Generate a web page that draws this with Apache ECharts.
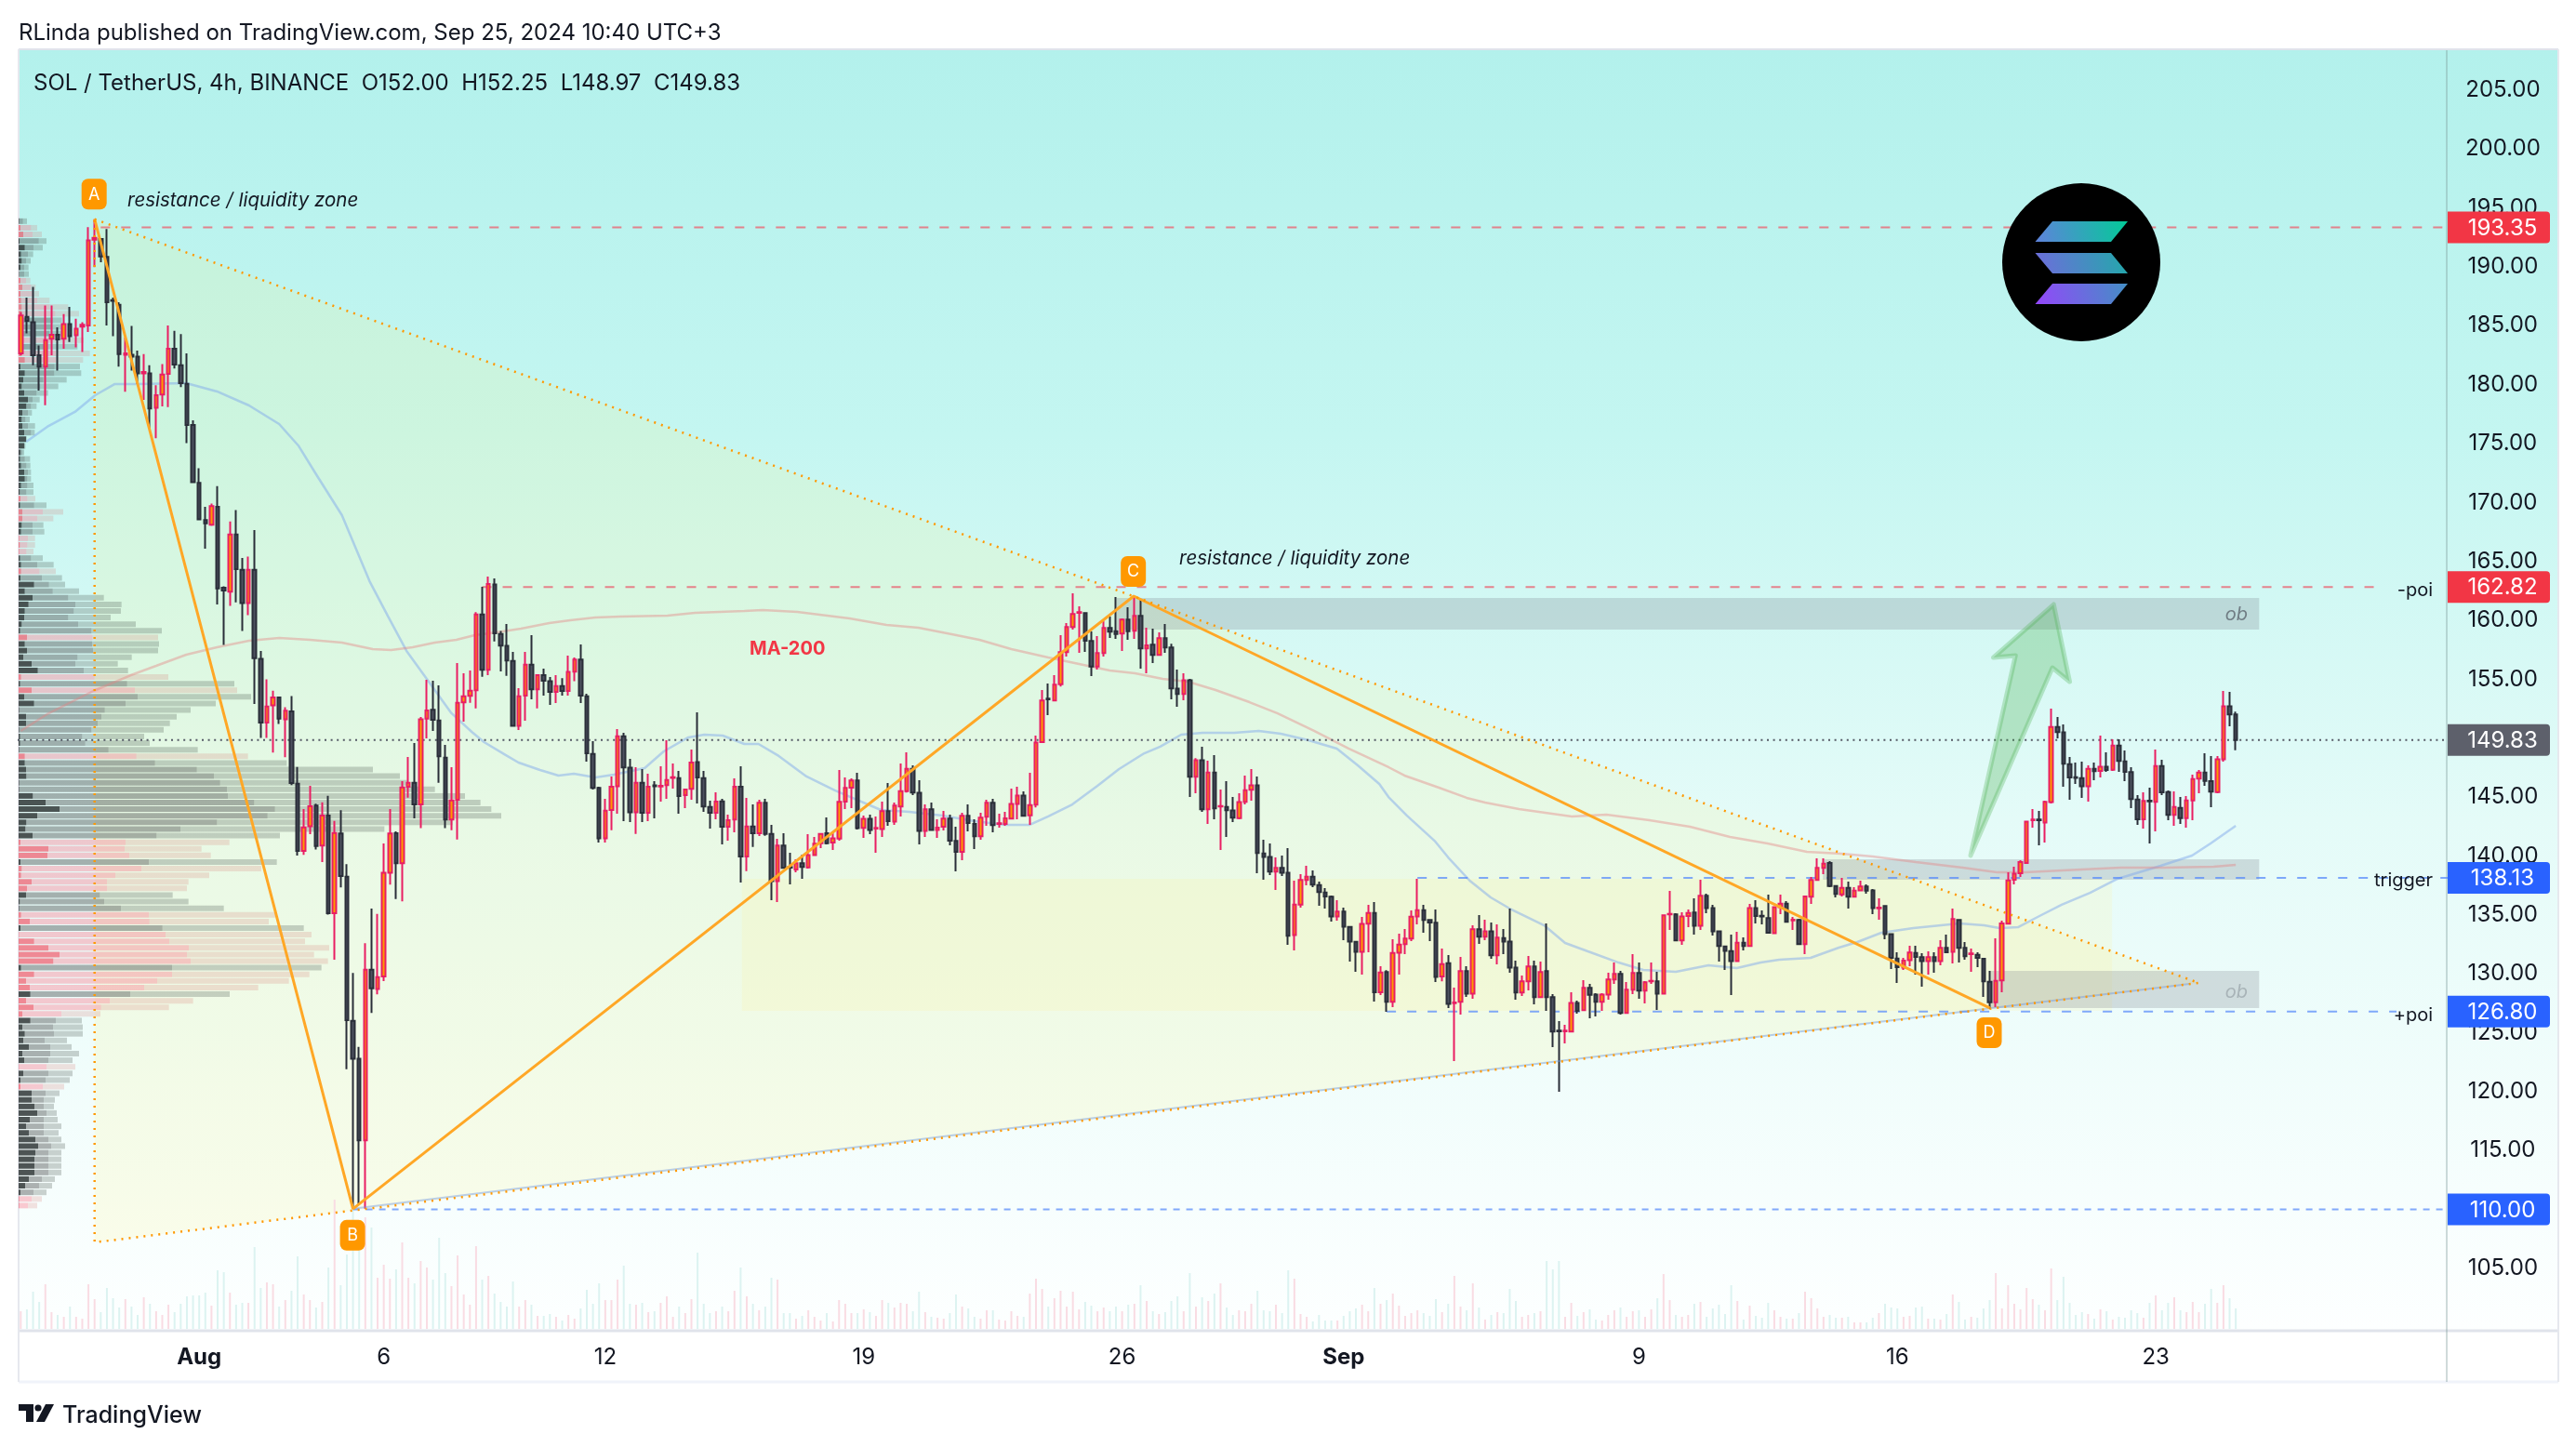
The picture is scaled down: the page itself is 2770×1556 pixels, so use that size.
<!DOCTYPE html>
<html><head><meta charset="utf-8"><style>html,body{margin:0;padding:0;background:#fff}#c{width:2770px;height:1556px}</style>
<script src="https://cdn.jsdelivr.net/npm/echarts@6/dist/echarts.min.js"></script></head><body><div id="c"></div>
<script>
const opens=[182.65,185.75,185.30,182.49,181.53,183.89,184.23,183.89,185.13,184.18,
184.91,185.02,192.29,192.35,190.83,187.16,186.77,182.54,182.54,182.37,
180.96,180.96,178.03,179.16,180.91,183.05,181.64,180.06,176.57,171.66,
168.51,168.11,169.63,162.76,162.42,167.27,164.28,161.46,164.28,156.72,
151.31,152.78,153.45,151.59,152.27,146.13,140.43,142.52,144.27,140.88,
143.42,135.13,141.90,138.23,126.00,122.79,115.86,130.34,128.71,129.78,
138.57,141.92,139.37,145.87,146.21,144.37,151.66,152.40,151.50,148.34,
143.08,144.77,153.03,153.58,154.05,160.50,155.79,163.03,158.84,157.82,
156.55,151.05,153.61,156.24,154.13,155.34,154.82,153.92,154.42,154.00,
155.63,156.66,153.55,148.66,145.77,141.50,143.90,145.92,150.16,147.48,
143.71,146.21,143.66,145.98,145.90,146.00,146.63,146.61,145.16,145.69,
147.97,146.61,144.16,143.66,144.63,142.48,143.08,145.87,139.95,142.50,
141.92,144.50,141.87,137.87,140.87,139.06,138.85,139.37,139.03,140.08,
141.08,141.92,141.13,141.48,144.61,145.79,146.40,142.37,143.14,142.32,
142.29,143.79,142.92,144.19,145.50,147.40,145.35,142.13,143.95,142.21,
142.48,143.16,141.27,140.35,143.40,142.71,141.66,143.32,144.50,142.71,
142.71,143.16,144.42,145.13,143.45,144.35,149.66,153.34,153.19,154.58,
157.29,159.42,160.63,160.61,158.24,156.08,157.21,159.34,159.08,158.87,
160.05,159.11,160.37,157.61,157.92,157.05,158.47,157.69,154.19,153.74,
154.90,146.71,148.13,143.95,147.08,144.19,144.16,143.85,143.21,144.58,
145.61,145.98,140.21,139.92,138.66,138.98,138.58,133.29,135.87,137.95,
138.24,137.53,136.90,136.53,134.87,135.27,133.98,132.72,131.87,134.24,
135.16,128.43,130.14,127.61,131.79,132.51,132.98,134.87,135.40,134.56,
134.32,129.77,130.90,127.51,127.61,130.22,128.32,133.77,133.14,133.59,
131.56,133.03,132.74,130.53,128.40,129.35,130.61,128.01,130.22,128.01,
125.17,125.11,125.09,127.53,126.90,128.80,128.24,127.61,128.24,129.51,
129.98,126.67,128.64,130.06,128.56,129.35,129.35,128.32,135.03,135.03,
132.82,134.90,135.19,134.08,136.61,135.58,133.59,132.32,131.93,131.08,
132.64,132.35,135.58,134.93,134.72,133.45,135.66,135.95,134.53,134.56,
132.51,136.53,137.95,138.98,139.40,137.45,136.74,137.29,136.53,137.08,
137.40,137.08,135.56,135.74,133.37,131.29,130.53,131.16,131.77,131.40,
131.08,131.40,131.08,132.19,131.87,134.56,132.19,131.66,131.61,131.27,
129.32,127.59,129.43,134.24,137.98,138.53,139.40,143.03,143.08,142.84,
144.56,150.95,150.48,147.79,146.69,146.61,145.92,147.40,147.21,147.56,
147.32,149.37,148.03,147.11,144.79,143.11,144.69,144.58,147.63,145.42,
143.48,144.08,143.21,144.71,146.56,147.08,146.35,145.42,148.19,152.69,152.00];
const closes=[185.87,185.42,182.49,181.53,183.78,184.23,183.84,185.13,184.12,184.74,
185.08,192.24,192.46,190.88,186.99,187.11,182.60,182.65,182.37,180.96,
181.08,177.98,179.10,180.85,183.05,181.70,180.12,176.57,171.72,168.56,
168.22,169.69,162.70,162.53,167.27,164.33,161.46,164.28,156.78,151.31,
152.67,153.45,151.65,152.33,146.18,140.43,142.41,144.21,140.83,143.42,
135.13,141.95,138.29,126.06,122.79,115.86,130.34,128.76,129.72,138.57,
141.90,139.37,145.82,146.21,144.37,151.60,152.34,151.55,148.45,143.08,
144.71,153.00,153.55,154.03,160.50,155.79,163.08,158.89,157.84,156.58,
151.05,153.55,156.24,154.13,155.34,154.87,153.92,154.42,154.00,155.61,
156.66,153.61,148.71,145.77,141.50,143.84,145.87,150.16,147.50,143.71,
146.21,143.66,145.87,145.92,145.95,146.45,146.69,145.08,145.63,147.92,
146.66,144.19,143.66,144.61,142.48,143.03,145.87,139.95,142.50,141.92,
144.50,141.87,137.87,140.87,138.98,139.00,139.37,139.06,140.08,141.03,
141.87,141.08,141.50,144.58,145.77,146.40,142.35,143.14,142.21,142.37,
143.79,142.95,144.27,145.50,147.40,145.37,142.13,143.95,142.21,142.40,
143.16,141.29,140.35,143.40,142.79,141.66,143.24,144.50,142.61,142.77,
143.19,144.42,145.13,143.40,144.32,149.63,153.19,153.29,154.53,157.29,
159.42,160.53,160.68,158.26,156.08,157.21,159.34,159.03,158.84,160.05,
159.08,160.37,157.61,157.87,157.05,158.47,157.69,154.21,153.74,154.90,
146.71,148.13,143.95,147.08,144.03,144.24,143.87,143.24,144.56,145.58,
145.98,140.24,139.92,138.66,138.98,138.58,133.22,135.87,137.95,138.24,
137.56,136.93,136.56,134.87,135.27,134.00,132.74,131.87,134.22,135.16,
128.43,130.11,127.61,131.77,132.48,132.98,134.85,135.40,134.56,134.35,
129.74,130.82,127.45,127.56,130.22,128.32,133.77,133.14,133.59,131.56,
133.06,132.74,130.53,128.40,129.35,130.61,128.01,130.14,128.01,125.09,
125.11,125.17,127.53,126.85,128.80,128.22,127.61,128.24,129.51,129.98,
126.67,128.64,130.06,128.56,129.27,129.40,128.32,134.95,135.08,132.82,
134.87,135.16,134.08,136.61,135.58,133.59,132.35,131.95,131.08,132.64,
132.35,135.58,134.90,134.87,133.48,135.66,135.95,134.40,134.59,132.51,
136.56,137.95,138.98,139.35,137.45,136.77,137.29,136.53,137.06,137.40,
137.06,135.58,135.61,133.37,131.35,130.56,131.11,131.80,131.43,131.08,
131.40,131.08,132.19,131.82,134.64,132.19,131.48,131.72,131.35,129.35,
127.59,129.40,134.27,137.92,138.50,139.48,142.92,143.08,143.03,144.58,
150.95,150.50,147.82,146.66,146.63,145.92,147.40,147.19,147.56,147.29,
149.37,148.06,147.13,144.82,143.11,144.66,144.63,147.63,145.40,143.48,
144.16,143.21,144.71,146.53,147.08,146.37,145.45,148.19,152.69,152.00,149.83];
const highs=[186.15,187.39,188.29,183.33,186.71,186.71,184.87,185.98,186.60,185.59,
185.30,193.37,194.04,192.35,193.20,187.39,186.99,184.01,184.97,182.88,
182.60,181.64,179.95,181.75,185.02,184.57,184.29,182.65,176.96,172.90,
169.63,169.91,171.38,162.87,168.39,169.35,165.29,165.41,167.66,157.40,
154.98,154.02,153.51,152.61,153.57,147.54,143.98,145.96,144.44,144.55,
145.11,142.97,143.87,139.31,130.06,123.80,132.60,135.53,135.08,141.05,
143.98,142.08,146.34,148.40,149.58,151.79,154.95,154.87,154.47,149.42,
147.53,156.37,155.50,155.74,160.68,162.84,163.71,163.55,159.10,159.68,
157.32,154.24,157.32,158.74,155.40,155.89,155.18,155.34,155.08,157.00,
156.84,157.95,153.76,149.74,145.87,144.84,146.74,150.76,150.45,148.24,
147.53,147.37,146.98,146.34,147.61,149.82,147.84,147.21,145.71,149.03,
152.19,147.21,144.69,145.40,144.84,143.50,146.58,147.61,144.92,144.37,
144.77,144.84,142.63,141.45,141.92,140.27,139.71,140.11,141.84,141.61,
141.92,143.27,142.00,147.29,146.66,146.58,147.05,143.42,143.50,143.35,
144.61,146.19,144.53,147.84,148.79,147.69,146.42,144.37,144.53,143.11,
143.82,143.50,142.48,143.66,144.37,143.11,143.66,144.77,144.84,143.58,
143.74,145.71,145.87,145.48,147.05,150.21,154.08,154.63,155.34,158.74,
159.76,162.29,161.18,160.68,159.05,158.66,159.92,160.32,161.97,160.16,
161.10,162.00,161.74,159.37,159.29,158.97,159.68,158.00,155.82,155.50,
155.03,148.29,149.27,148.08,148.55,145.63,146.34,145.00,145.32,146.82,
147.37,146.74,141.37,141.06,139.87,140.03,140.66,137.90,138.45,139.16,
138.77,137.82,137.27,136.64,136.24,135.61,133.98,132.74,134.82,135.85,
136.08,130.64,130.30,132.93,133.40,133.79,135.37,138.06,135.85,134.56,
135.45,132.14,131.58,128.82,131.43,130.64,134.11,134.98,134.58,134.35,
134.19,133.80,135.53,131.11,129.85,131.51,131.11,131.03,134.27,128.27,
125.98,125.67,128.43,127.72,129.45,129.14,128.35,128.35,130.09,130.96,
130.24,129.30,131.67,130.96,129.37,130.96,130.16,134.95,137.03,135.14,
135.22,135.45,136.40,137.98,136.80,135.85,133.64,132.37,133.32,133.56,
133.09,135.93,136.24,135.37,136.72,135.69,136.72,136.16,134.82,134.66,
136.64,138.22,139.79,139.79,139.56,137.50,138.13,137.82,137.35,137.90,
137.58,137.19,136.40,135.77,133.40,131.82,131.35,132.37,132.37,131.74,
131.90,131.82,132.85,133.32,135.53,134.61,132.69,132.14,131.82,131.35,
130.24,133.00,134.51,138.61,139.08,139.64,142.95,143.98,143.82,144.69,
152.50,151.79,151.16,148.40,147.92,148.00,147.69,147.92,150.21,148.79,
149.90,149.90,148.95,147.53,145.16,145.40,145.80,149.03,148.16,145.56,
145.48,145.00,145.08,146.90,147.29,148.71,148.48,148.48,154.00,153.92,152.25];
const lows=[182.49,184.35,181.64,179.50,178.26,182.49,181.19,183.05,183.61,183.16,
182.77,184.46,189.98,190.38,185.02,184.12,181.53,179.39,181.19,180.06,
178.71,176.28,175.44,178.15,178.09,181.36,179.78,175.04,171.66,168.51,
166.08,168.00,161.35,157.91,161.23,161.52,159.09,160.44,152.89,150.02,
150.02,148.78,151.20,148.38,146.01,140.04,140.09,141.84,140.55,139.47,
135.02,131.19,137.33,121.89,110.05,110.50,110.05,126.68,128.26,129.38,
137.56,136.35,136.14,144.95,143.19,142.35,149.97,150.61,146.21,142.35,
142.19,141.40,151.40,153.00,152.53,155.21,155.34,158.21,155.66,155.29,
151.05,150.69,151.48,153.29,152.53,153.61,152.82,152.98,153.61,153.61,
154.82,152.98,148.00,145.63,141.13,141.13,142.19,143.58,142.95,142.87,
141.87,142.87,142.95,143.19,144.61,144.84,145.71,143.58,144.06,144.77,
144.45,143.74,142.32,143.11,140.98,141.29,142.00,137.74,138.71,140.77,
141.69,141.71,136.24,136.08,138.92,137.58,138.61,138.06,138.92,140.03,
140.66,140.98,140.50,141.29,143.98,144.06,142.24,141.53,141.84,140.27,
141.61,142.56,142.63,143.34,145.37,145.16,140.98,141.61,142.16,141.53,
142.16,140.90,138.69,139.64,142.08,140.58,141.37,142.56,142.00,142.40,
142.56,143.11,143.11,143.34,142.63,144.11,149.58,151.95,153.13,154.37,
156.92,159.21,157.24,157.32,155.26,155.82,156.92,158.50,158.42,157.40,
158.34,158.42,155.90,155.50,156.37,157.00,157.24,153.29,152.66,153.21,
145.00,145.32,143.74,142.71,143.11,140.50,141.61,142.87,143.11,144.37,
144.69,138.53,137.98,138.37,137.11,138.29,132.45,131.98,135.61,137.50,
137.35,135.77,135.53,134.43,134.51,132.85,131.03,130.16,129.93,131.82,
127.64,128.19,126.77,127.17,129.93,131.66,132.77,134.19,133.48,132.77,
129.30,129.35,127.08,122.59,126.53,128.03,127.88,132.53,132.85,131.27,
130.80,131.67,130.09,127.80,128.11,128.59,127.40,127.96,126.85,123.77,
119.98,124.09,125.03,126.61,126.85,126.22,126.38,126.85,127.80,129.14,
126.53,126.61,128.27,127.88,127.48,129.14,126.93,128.27,133.72,132.77,
132.45,133.95,133.32,133.72,135.14,133.24,131.03,130.32,128.19,131.03,
131.98,132.30,134.27,134.19,133.40,133.40,135.06,134.35,133.72,132.45,
131.67,135.93,137.90,138.45,137.35,136.48,136.56,135.53,136.48,137.03,
136.80,135.06,134.58,132.93,130.40,129.22,130.32,130.64,129.93,128.90,
129.93,130.08,130.72,131.74,130.87,130.95,131.19,130.16,130.56,128.03,
127.01,127.16,128.43,134.24,137.58,138.21,139.35,142.40,140.90,141.13,
144.45,149.98,145.87,144.77,146.11,144.92,144.61,146.42,146.66,147.13,
147.21,147.13,146.34,144.06,142.64,142.32,141.06,142.08,145.16,143.03,
142.56,142.71,142.40,143.03,145.32,145.95,144.13,145.32,148.00,151.00,148.97];
const volumes=[19,21,40,29,48,18,15,13,24,13,11,48,32,18,44,33,23,32,24,15,34,27,19,15,26,18,27,35,36,36,
39,25,63,61,39,26,28,28,88,44,50,48,24,31,41,78,37,31,23,29,66,139,47,80,130,110,120,109,55,69,
54,64,93,55,49,73,66,53,98,60,46,79,37,26,89,53,57,38,29,24,51,24,31,26,14,14,16,13,9,15,
11,22,42,27,49,31,31,53,68,27,26,28,18,19,28,35,13,24,17,32,82,27,17,19,24,19,41,66,35,27,
20,24,55,53,17,17,11,14,20,13,9,17,8,31,27,17,17,21,18,14,31,28,23,28,27,19,40,18,13,12,
11,17,37,24,22,13,11,20,20,10,9,19,14,13,38,54,43,24,33,41,24,40,21,29,25,19,23,19,24,19,
26,27,47,30,19,16,18,30,35,19,60,24,34,30,
38,49,23,15,20,19,27,41,20,19,26,17,63,54,16,13,8,15,9,9,9,14,19,22,26,19,44,27,31,38,25,14,17,20,17,14,32,18,27,57,24,20,49,23,10,15,18,17,43,30,13,15,17,19,73,64,73,13,28,14,18,21,10,9,15,20,23,13,19,20,13,21,33,59,31,15,13,15,27,29,13,22,26,16,47,30,10,25,14,12,28,20,13,11,11,17,40,33,22,13,15,12,12,13,7,7,7,12,17,27,23,22,13,14,23,24,11,11,10,16,37,29,10,13,12,22,31,60,22,47,27,21,44,32,26,20,65,31,56,28,15,18,16,11,21,19,10,13,12,20,17,12,28,36,20,28,34,20,18,29,18,27,43,28,47,33,22];
const maBlue=[[0.9,175.15],[4.3,176.42],[8.8,177.68],[12.1,179.10],[15.3,180.05],[18.9,180.05],[26.9,180.13],[31.9,179.42],[37.1,178.23],[42,176.65],[45.1,174.84],[48.1,172.31],[52.2,168.92],[56.7,163.31],[59.7,160.32],[62.7,157.40],[66.2,154.87],[70,152.11],[73.3,150.53],[75.3,149.66],[78.8,148.56],[80.9,147.92],[84.4,147.29],[87.4,146.82],[89.9,146.98],[93.4,146.66],[96.4,146.90],[101.4,147.45],[104.5,148.87],[108.5,150.06],[111.1,150.29],[114.1,150.21],[117.6,149.50],[119.9,149.50],[123.2,148.48],[127.7,146.74],[132.3,145.56],[139.8,143.90],[144.4,143.74],[149.8,143.42],[155,142.95],[159.9,142.64],[164,142.64],[167,143.35],[170.9,144.37],[175,145.95],[178.5,147.37],[182.6,148.71],[185.2,149.27],[188.6,150.29],[192.1,150.45],[197.2,150.45],[201.2,150.61],[204.8,150.37],[209.3,149.82],[213.9,149.11],[217.3,147.69],[220.8,146.11],[222.3,145],[225.3,143.42],[229.9,141.22],[232,139.87],[235.5,137.90],[238.9,136.48],[242,135.53],[247.6,134.11],[251,132.61],[254.7,131.90],[259.7,130.95],[263.7,130.32],[269,130.17],[274.3,130.72],[278.9,130.48],[282.8,130.95],[285.8,131.19],[290.9,131.35],[295.5,132.22],[298.5,132.69],[302.4,133.48],[307.6,133.87],[315.1,134.27],[319.1,134.11],[321.6,133.87],[324.6,133.95],[328.1,134.90],[331.7,135.85],[336.3,136.87],[340.8,138.06],[347.8,139.16],[352.9,140.03],[355.9,141.06],[360,142.56]];
const ma200=[[0,150.61],[4.3,152.03],[11.8,154],[17.9,155.34],[22,156.13],[26.9,157.08],[31.9,157.71],[37.1,158.26],[42,158.50],[47,158.34],[52.2,158.11],[57.2,157.55],[60.2,157.47],[63.7,157.71],[67.3,158.11],[70.8,158.34],[73.8,158.74],[77.3,158.97],[81.3,159.29],[85.9,159.76],[89.3,160],[93.4,160.24],[97.5,160.32],[105.1,160.39],[109.6,160.63],[117.6,160.79],[120.6,160.87],[126.2,160.71],[134.7,160.16],[140.7,159.61],[145.9,159.37],[151.3,158.82],[155.8,158.34],[161,157.55],[167,156.84],[172,156.29],[177,155.74],[181.1,155.50],[185.6,155.03],[189.7,154.79],[194.2,154.08],[199.7,153.05],[204.2,152.11],[210.2,150.61],[215.8,149.11],[222.3,147.53],[224.9,146.82],[230.5,145.79],[235,144.93],[238,144.53],[243.5,143.98],[252.1,143.35],[257.7,143.50],[264.7,143.03],[271.3,142.48],[277.8,141.61],[283.9,141.06],[290.3,140.35],[295.9,140.19],[301,139.95],[308,139.48],[315.6,139],[321.2,138.61],[325.7,138.61],[331.8,138.77],[341.3,139],[348.4,139],[356.4,139.08],[360,139.24]];
const vpInner=[2,6,15,3,20,8,10,6,1,6,12,6,8,10,10,8,6,12,10,8,10,20,6,20,15,10,18,30,25,12,10,12,18,24,18,6,5,8,18,20,8,4,6,5,12,12,10,8,2,4,2,5,8,8,6,50,20,45,32,20,18,10,5,27,20,27,15,42,62,8,5,42,18,50,2,24,24,2,5,5,2,20,20,24,25,2,2,46,87,132,60,25,22,45,6,96,93,6,10,8,42,27,24,4,2,8,36,6,1,50,96,132,112,8,50,24,36,38,24,48,12,38,12,20,15,33,12,18,1,15,6,6,42,42,51,60,36,24,33,54,63,54,51,51,51,33,21,6,2,2];
const vpMid=[14,40,45,65,48,30,24,18,18,24,40,45,60,100,118,110,108,100,110,90,120,120,116,115,80,70,58,45,40,30,22,30,40,25,20,12,20,25,30,28,28,25,28,50,78,60,45,45,30,28,25,40,60,67,75,98,110,160,183,178,160,192,235,238,237,240,190,183,210,245,350,375,384,345,278,267,255,235,205,215,290,380,440,575,630,650,672,675,760,827,803,640,522,445,345,342,357,420,396,312,285,285,262,276,330,420,422,464,474,486,549,543,555,495,495,447,405,360,294,266,138,120,111,114,84,102,102,96,90,96,87,78,87,81,81,90,81,81,81,96,105,96,96,96,96,75,66,48,42,30];
const vpOuter=[27,60,75,90,78,47,39,32,33,38,55,66,100,160,195,140,145,150,210,190,230,208,198,202,155,128,95,68,58,43,36,53,52,26,22,18,37,38,40,40,48,48,54,90,144,112,80,83,53,53,48,78,113,120,140,150,195,275,332,330,297,378,462,450,453,450,365,320,353,483,696,705,750,636,555,510,488,468,405,423,578,740,865,1143,1230,1253,1343,1440,1490,1525,1557,1400,1180,843,680,590,620,833,783,615,548,543,497,548,662,828,807,920,945,924,1002,953,998,977,938,872,773,681,563,485,264,204,207,207,156,171,195,174,183,174,165,147,132,117,114,123,126,138,129,138,150,138,138,138,138,117,108,90,75,60];
const vpUp=[0,1,1,0,0,0,0,0,0,1,1,1,1,1,1,0,0,0,1,0,1,1,0,0,0,0,0,0,0,0,0,0,0,0,0,0,0,0,0,0,0,0,1,0,1,1,0,0,1,1,1,0,0,1,0,0,0,0,0,0,0,0,0,1,0,0,0,0,0,1,0,1,0,0,0,0,0,0,0,0,0,1,0,0,0,0,0,0,0,0,0,0,0,0,1,1,1,0,1,1,1,1,0,0,0,1,1,0,1,1,1,1,1,0,1,1,1,0,1,1,1,0,0,0,0,0,0,0,1,0,0,1,0,0,0,0,0,0,0,0,0,0,0,0,0,0,0,0,1,1];
const vpTopPrice=193.87, vpRowStep=0.5607;
const patternIdx=[12,54,180.9,320], patternPrice=[194.04,110.05,162.05,127.09], patternNames=['A','B','C','D'];
const axisPrices=[105,110,115,120,125,130,135,140,145,150,155,160,165,170,175,180,185,190,195,200,205];
const tagPrices=[193.35,162.82,149.83,138.13,126.80,110.00];
const timeTickLabels=['Aug','6','12','19','26','Sep','9','16','23'];
const timeTickCats=['08-01 03:00','08-06 03:00','08-12 03:00','08-19 03:00','08-26 03:00','09-01 03:00','09-09 03:00','09-16 03:00','09-23 03:00'];

const N=395, PINK='#e91e63', ORANGE='#ff9800', DARK='#2a2e39';
const cats=[];for(let i=0;i<N;i++){const d=new Date(Date.UTC(2024,6,27,7+4*i));const p=n=>String(n).padStart(2,'0');cats.push(p(d.getUTCMonth()+1)+'-'+p(d.getUTCDate())+' '+p(d.getUTCHours())+':00');}
const candleData=opens.map((o,i)=>[o,closes[i],lows[i],highs[i]]);
const F='Inter';
const chart=echarts.init(document.getElementById('c'),null,{renderer:'canvas',width:2770,height:1556});
const lens=[opens.length,closes.length,highs.length,lows.length,volumes.length,vpInner.length,vpMid.length,vpOuter.length,vpUp.length];
if(lens.slice(0,5).some(v=>v!==361)||lens.slice(5).some(v=>v!==150))throw new Error('len '+lens.join(','));

function poly(pts,style,z){return{type:'custom',xAxisIndex:1,yAxisIndex:0,z,silent:true,data:[[0,150]],encode:{x:0,y:1},renderItem:(p,api)=>({type:'polygon',shape:{points:pts.map(q=>api.coord(q))},style})};}
function rect(i0,i1,pt,pb,fill,z){return poly([[i0,pt],[i1,pt],[i1,pb],[i0,pb]],{fill},z);}
function line(data,color,w,type,z){return{type:'line',xAxisIndex:1,yAxisIndex:0,z,silent:true,showSymbol:false,data,lineStyle:{color,width:w,type},itemStyle:{color}};}
const RED_L='rgba(231,110,122,0.85)',BLUE_L='rgba(90,140,250,0.75)',END=394.5;
const apex=[354,129.22],baseL=[12,107.2],baseR=[352.5,129.14];
const series=[
 {type:'bar',xAxisIndex:3,yAxisIndex:1,z:1,barWidth:2,silent:true,data:volumes,itemStyle:{color:p=>closes[p.dataIndex]>=opens[p.dataIndex]?'#f9dce3':'#dcf3f1'}},
 rect(117.2,339.9,138.06,126.85,'rgba(255,245,150,0.17)',1),
 poly([[patternIdx[0],patternPrice[0]],apex,baseL],{fill:'rgba(255,240,130,0.16)'},1),
 {type:'custom',xAxisIndex:2,yAxisIndex:0,z:1,silent:true,data:vpInner.map((v,i)=>[0,i]),encode:{x:0},renderItem:(p,api)=>{
   const i=p.dataIndex,pr=vpTopPrice-i*vpRowStep,y=api.coord([0,pr])[1],sx=v=>api.coord([v,pr])[0],h=6;
   const up=vpUp[i];
   const seg=(a,b,fill)=>({type:'rect',shape:{x:sx(a),y:y-h/2,width:Math.max(0,sx(b)-sx(a)),height:h},style:{fill}});
   return{type:'group',children:[seg(0,vpInner[i],up?'rgba(242,60,80,0.60)':'rgba(40,46,46,0.82)'),seg(vpInner[i],vpMid[i],up?'rgba(255,90,115,0.32)':'rgba(70,72,72,0.42)'),seg(vpMid[i],vpOuter[i],up?'rgba(216,108,104,0.20)':'rgba(76,90,83,0.27)')]};
 }},
 rect(178.1,363.8,161.89,159.21,'rgba(120,123,134,0.25)',1),
 rect(292.9,363.8,139.72,137.98,'rgba(120,123,134,0.25)',1),
 rect(320.1,363.8,130.25,127.09,'rgba(120,123,134,0.25)',1),
 line(maBlue,'rgba(130,170,235,0.50)',2.5,'solid',2),
 line(ma200,'rgba(228,130,130,0.42)',2.5,'solid',2),
 line([[13,193.35],[END,193.35]],RED_L,2,[10,12],2),
 line([[75,162.82],[2540/6.617,162.82]],RED_L,2,[10,12],2),
 line([[227,138.13],[END,138.13]],BLUE_L,2,[10,12],2),
 line([[222,126.80],[2555/6.617,126.80]],BLUE_L,2,[10,12],2),
 line([[54,110],[END,110]],BLUE_L,2,[7,7],2),
 line([[-0.5,149.83],[END,149.83]],'#555a66',2,[2,4.6],2),
 {type:'candlestick',xAxisIndex:0,yAxisIndex:0,z:3,silent:true,barWidth:4,data:candleData,itemStyle:{color:ORANGE,color0:'#4d515f',borderColor:PINK,borderColor0:DARK,borderColorDoji:PINK,borderWidth:2}},
 line([[54,110.05],baseR],'rgba(110,150,225,0.45)',2,'solid',4),
 line(patternIdx.map((v,i)=>[v,patternPrice[i]]),'#ffa726',3,'solid',4),
 line([[patternIdx[0],patternPrice[0]],apex,baseL,[patternIdx[0],patternPrice[0]]],ORANGE,2.5,[2,6],4),
 poly([[316.9,140.03],[324.2,157],[320.6,156.84],[330.4,161.34],[333,154.79],[330.2,155.97]],{fill:'rgba(76,175,80,0.30)',stroke:'rgba(76,175,80,0.30)',lineWidth:5,lineJoin:'round'},4),
 {type:'custom',xAxisIndex:1,yAxisIndex:0,z:6,silent:true,data:patternIdx.map((v,i)=>[v,patternPrice[i]]),encode:{x:0,y:1},renderItem:(p,api)=>{
   const off=[-26.5,29,-26,27][p.dataIndex],c=api.coord([api.value(0),api.value(1)]);
   return{type:'group',children:[{type:'rect',shape:{x:c[0]-14,y:c[1]+off-17,width:27,height:33,r:7},style:{fill:ORANGE}},{type:'text',style:{x:c[0]-0.5,y:c[1]+off,text:patternNames[p.dataIndex],fill:'#fff',font:'18px '+F,align:'center',verticalAlign:'middle'}}]};
 }},
 {type:'custom',xAxisIndex:1,yAxisIndex:0,z:10,silent:true,clip:false,data:tagPrices.map(v=>[0,v]),encode:{x:0,y:1},renderItem:(p,api)=>{
   const v=api.value(1),y=api.coord([0,v])[1],col=v===149.83?'#5d606b':(v===193.35||v===162.82)?'#f23645':'#2962ff';
   return{type:'group',children:[{type:'rect',shape:{x:2632,y:y-17,width:110,height:34,r:[0,4,4,0]},style:{fill:col}},{type:'text',style:{x:2691,y:y+1,text:v.toFixed(2),fill:'#fff',font:'24px '+F,align:'center',verticalAlign:'middle'}}]};
 }}
];
function txt(text,x,y,font,fill,align,z){return{type:'text',silent:true,z:z||40,style:{text,x,y,font,fill,align:align||'left',verticalAlign:'middle'}};}
function lineG(x1,y1,x2,y2,stroke,w,z){return{type:'line',silent:true,z:z||1,shape:{x1,y1,x2,y2},style:{stroke,lineWidth:w}};}
function grad(a,b){return new echarts.graphic.LinearGradient(0,1,1,0,[{offset:0,color:a},{offset:1,color:b}]);}
const graphics=[
 {type:'rect',silent:true,z:-5,shape:{x:20,y:54,width:2731,height:1377},style:{fill:new echarts.graphic.LinearGradient(0,0,0,1,[{offset:0,color:'#b3f1ec'},{offset:0.3,color:'#c4f6f1'},{offset:0.6,color:'#e4fbf8'},{offset:1,color:'#fdffff'}])}},
 lineG(20,53,2751,53,'#e0e3eb',2),lineG(20,1431,2751,1431,'#e0e3eb',3),lineG(20,1486,2751,1486,'#f0f3fa',3),
 lineG(20,53,20,1486,'#e6e8ee',2),lineG(2751,53,2751,1486,'#e6e8ee',2),lineG(2631,54,2631,1486,'rgba(120,150,150,0.35)',2),
 txt('RLinda published on TradingView.com, Sep 25, 2024 10:40 UTC+3',20,36,'24px '+F,'#131722'),
 txt('SOL / TetherUS, 4h, BINANCE  O152.00  H152.25  L148.97  C149.83',36,90,'24px '+F,'#131722'),
 txt('resistance / liquidity zone',137,216,'italic 20.5px '+F,'#131722'),
 txt('resistance / liquidity zone',1268,601,'italic 20.5px '+F,'#131722'),
 txt('MA-200',806,698,'bold 20px '+F,'#f23645'),
 txt('ob',2417,661,'italic 20px '+F,'rgba(80,85,95,0.7)','right'),
 txt('ob',2417,1067,'italic 20px '+F,'rgba(80,85,95,0.3)','right'),
 txt('-poi',2616,635,'20px '+F,'#131722','right'),
 txt('trigger',2616,947,'20px '+F,'#131722','right'),
 txt('+poi',2616,1092,'20px '+F,'#131722','right'),
 {type:'circle',silent:true,z:30,shape:{cx:2238,cy:282,r:85},style:{fill:'#000'}},
 {type:'polygon',silent:true,z:31,shape:{points:[[2207,238],[2288,238],[2270,260],[2188.5,260]]},style:{fill:grad('#5f82dc','#02cb97')}},
 {type:'polygon',silent:true,z:31,shape:{points:[[2188.5,272],[2270,272],[2288,294],[2207,294]]},style:{fill:grad('#6f6cdc','#22a9aa')}},
 {type:'polygon',silent:true,z:31,shape:{points:[[2207,305],[2288,305],[2270,327],[2188.5,327]]},style:{fill:grad('#9447fa','#438fc5')}},
 {type:'polygon',silent:true,z:40,shape:{points:[[20,1510],[36,1510],[36,1529],[28,1529],[28,1517],[20,1517]]},style:{fill:'#131722'}},
 {type:'circle',silent:true,z:40,shape:{cx:41,cy:1514,r:3.6},style:{fill:'#131722'}},
 {type:'polygon',silent:true,z:40,shape:{points:[[49,1510],[58,1510],[48,1529],[39,1529]]},style:{fill:'#131722'}},
 txt('TradingView',67,1522,'500 25px '+F,'#131722')
];
chart.setOption({animation:false,backgroundColor:'#ffffff',
 grid:[{left:19,top:54,width:2613.4,height:1377,containLabel:false},{left:19,top:1289,width:2613.4,height:140}],
 xAxis:[
  {type:'category',gridIndex:0,data:cats,boundaryGap:true,axisLine:{show:false},axisTick:{show:false},splitLine:{show:false},
   axisLabel:{margin:17,interval:(i,v)=>timeTickCats.includes(v),formatter:v=>{const k=timeTickCats.indexOf(v);const s=timeTickLabels[k]||'';return /[A-Z]/.test(s)?'{b|'+s+'}':s;},color:'#131722',fontFamily:F,fontSize:24,hideOverlap:false,rich:{b:{fontFamily:F,fontSize:24,fontWeight:'bold',color:'#131722'}}}},
  {type:'value',gridIndex:0,min:-0.5,max:394.5,show:false,splitLine:{show:false}},
  {type:'value',gridIndex:0,min:-3,max:7837.2,show:false,splitLine:{show:false}},
  {type:'category',gridIndex:1,data:cats,show:false}
 ],
 yAxis:[
  {type:'value',gridIndex:0,position:'right',min:99.70,max:208.38,axisLine:{show:false},axisTick:{show:false},splitLine:{show:false},
   axisLabel:{margin:59,align:'center',padding:[3,0,0,0],customValues:axisPrices,formatter:v=>v.toFixed(2),color:'#131722',fontFamily:F,fontSize:24}},
  {type:'value',gridIndex:1,min:0,max:140,show:false,splitLine:{show:false}}
 ],
 graphic:{elements:graphics},series});
</script></body></html>
